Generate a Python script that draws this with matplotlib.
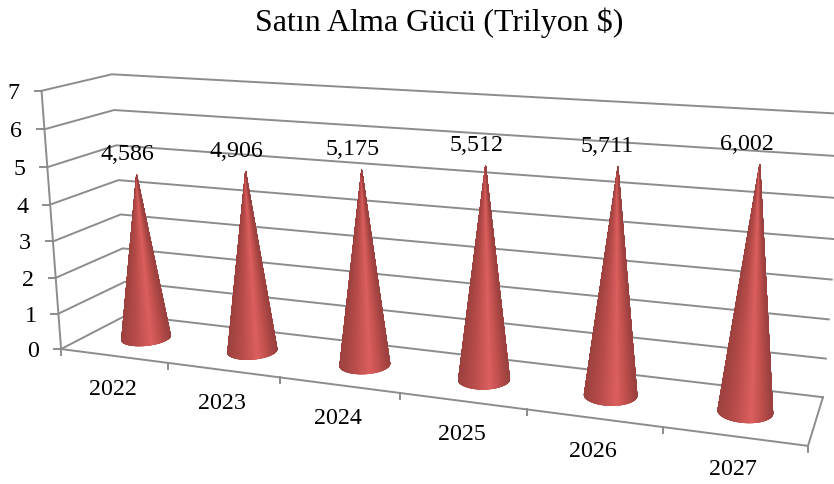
import numpy as np
import matplotlib
matplotlib.use("Agg")
import matplotlib.pyplot as plt
from matplotlib.collections import PolyCollection
from matplotlib.colors import LinearSegmentedColormap

years = ["2022", "2023", "2024", "2025", "2026", "2027"]
values = [4.586, 4.906, 5.175, 5.512, 5.711, 6.002]
value_ticks = [0, 1, 2, 3, 4, 5, 6, 7]
title = "Satın Alma Gücü (Trilyon $)"

plt.rcParams["font.family"] = ["Liberation Serif", "DejaVu Serif"]

# Box corners (category, value, depth) and where they land in the picture
world = [(0, 0, 0), (0, 7, 0), (0, 0, 1), (0, 7, 1), (6, 0, 1), (6, 7, 1), (6, 0, 0), (3, 0, 0)]
image = [(61, 349), (41.7, 90.7), (127, 315), (111.7, 74.3), (823, 397), (844, 114), (808, 446), (400, 393)]


def fit_camera(world, image):
    # Direct linear transform for a 3D to 2D projective camera
    rows, rhs = [], []
    for (x, y, z), (u, v) in zip(world, image):
        rows.append([x, y, z, 1, 0, 0, 0, 0, -u * x, -u * y, -u * z])
        rows.append([0, 0, 0, 0, x, y, z, 1, -v * x, -v * y, -v * z])
        rhs += [u, v]
    sol = np.linalg.lstsq(np.array(rows, float), np.array(rhs, float), rcond=None)[0]
    return np.append(sol, 1).reshape(3, 4)


camera = fit_camera(world, image)


def project(x, y, z):
    x, y, z = np.broadcast_arrays(x, y, z)
    pts = camera @ np.stack([x, y, z, np.ones_like(x)], axis=0, dtype=float).reshape(4, -1)
    return pts[0] / pts[2], pts[1] / pts[2]


fig = plt.figure(figsize=(8.34, 4.84), dpi=100)
ax = fig.add_axes([0, 0, 1, 1])
ax.set_xlim(0, 834)
ax.set_ylim(484, 0)
ax.axis("off")

line_color = "#8c8c8c"
lw = 1.4


def seg(a, b, **kw):
    u, v = project(*np.array([a, b], float).T)
    ax.plot(u, v, color=line_color, lw=lw, solid_capstyle="round", **kw)


# Walls and gridlines
for t in value_ticks:
    u, v = project([0, 0, 6], [t, t, t], [0, 1, 1])
    ax.plot(u, v, color=line_color, lw=lw)
    ax.plot([u[0] - 7, u[0]], [v[0], v[0]], color=line_color, lw=lw)
    ax.text(u[0] - 28, v[0] + 2.5, str(t), fontsize=17.3, ha="center", va="center", color="black")

seg((0, 0, 0), (0, 7, 0))
seg((0, 0, 0), (6, 0, 0))
seg((6, 0, 0), (6, 0, 1))

# Category ticks and labels along the front edge
for i in range(7):
    u, v = project(i, 0, 0)
    ax.plot([u[0], u[0]], [v[0], v[0] + 6], color=line_color, lw=lw)
for i, year in enumerate(years):
    u, v = project(i + 0.5, 0, 0)
    ax.text(u[0] - 1, v[0] + 33.5, year, fontsize=17.3, ha="center", va="center", color="black")

# Cones
shade = LinearSegmentedColormap.from_list(
    "cone", [(0, "#9c413f"), (0.3, "#b84c4a"), (0.62, "#dc5f5f"), (0.82, "#bd4e4c"), (1, "#9c413f")]
)
radius_x = 0.195
radius_z = 0.22
label_dx = [-9, -9, -9, -9, -11, -13]
# starts at the back of the base, goes round by the left, the front and the right
theta = np.linspace(0.5 * np.pi, 2.5 * np.pi, 721)

for i, value in enumerate(values):
    cx, cz = i + 0.5, 0.5
    bu, bv = project(cx + radius_x * np.cos(theta), 0, cz + radius_z * np.sin(theta))
    au, av = project(cx, value, cz)

    # Visible arc runs between the two tangents from the apex, through the front of the base
    spread = (bu - au[0]) / (bv - av[0])
    left, right = np.argmin(spread), np.argmax(spread)
    arc = np.arange(left, right + 1)
    bu, bv = bu[arc], bv[arc]

    t = (bu - bu.min()) / (bu.max() - bu.min())
    strips = [[(au[0], av[0]), (bu[k], bv[k]), (bu[k + 1], bv[k + 1])] for k in range(len(bu) - 1)]
    colors = shade(t[:-1])
    ax.add_collection(PolyCollection(strips, facecolors=colors, edgecolors=colors, linewidths=0.6, zorder=3))
    ax.text(au[0] + label_dx[i], av[0] - 20.5, f"{value:.3f}".replace(".", ","), fontsize=17.3,
            ha="center", va="center", color="black", zorder=4)

ax.text(439, 23, title, fontsize=23, ha="center", va="center", color="black")

fig.savefig("out.png", dpi=100)
